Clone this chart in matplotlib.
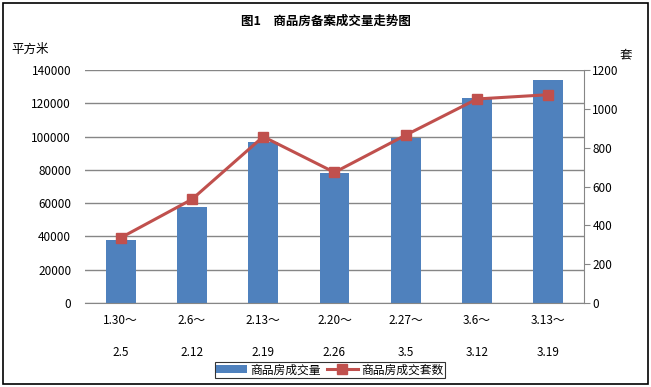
import matplotlib.pyplot as plt
import numpy as np
from matplotlib.patches import Rectangle

plt.rcParams['font.family'] = ['Noto Sans CJK SC', 'DejaVu Sans']

weeks_start = ['1.30～', '2.6～', '2.13～', '2.20～', '2.27～', '3.6～', '3.13～']
weeks_end = ['2.5', '2.12', '2.19', '2.26', '3.5', '3.12', '3.19']
area = [38000, 58000, 97000, 78000, 99000, 123000, 134000]   # 平方米
units = [336, 534, 857, 673, 865, 1051, 1073]                 # 套

bar_color = '#4F81BD'
line_color = '#C0504D'
grid_color = '#868686'

fig = plt.figure(figsize=(6.51, 3.87), dpi=100)
fig.patches.append(Rectangle((0.004, 0.008), 0.991, 0.984, transform=fig.transFigure,
                             fill=False, edgecolor='black', linewidth=1.2))

ax = fig.add_axes([0.1306, 0.217, 0.7664, 0.602])
ax2 = ax.twinx()

x = np.arange(len(area))
b = ax.bar(x, area, width=0.42, color=bar_color, zorder=2, label='商品房成交量')
l, = ax2.plot(x, units, color=line_color, lw=2.2, marker='s', markersize=7,
              label='商品房成交套数', zorder=3)

ax.set_xlim(-0.5, len(area) - 0.5)
ax.set_ylim(0, 140000)
ax.set_yticks(np.arange(0, 140001, 20000))
ax2.set_ylim(0, 1200)
ax2.set_yticks(np.arange(0, 1201, 200))

ax.grid(axis='y', color=grid_color, lw=1, zorder=0)
ax.set_axisbelow(True)
for s in ['top', 'left', 'right']:
    ax.spines[s].set_visible(False)
for s in ['top', 'left']:
    ax2.spines[s].set_visible(False)
ax2.spines['bottom'].set_visible(False)
ax.spines['bottom'].set_color(grid_color)
ax2.spines['right'].set_color(grid_color)

ax.set_xticks(x)
ax.set_xticklabels([f'{a}\n\n{b_}' for a, b_ in zip(weeks_start, weeks_end)],
                   fontsize=8.5, linespacing=1.3)
ax.tick_params(axis='x', length=0, pad=8)
ax.tick_params(axis='y', length=0, labelsize=8.5, pad=10)
ax2.tick_params(axis='y', length=4, color=grid_color, labelsize=8.5, pad=2)

fig.text(0.5, 0.945, '图1　商品房备案成交量走势图', ha='center', va='center',
         fontsize=9, fontweight='bold')
fig.text(0.018, 0.873, '平方米', ha='left', va='center', fontsize=9)
fig.text(0.952, 0.858, '套', ha='left', va='center', fontsize=9)

leg = fig.legend([b, l], ['商品房成交量', '商品房成交套数'], loc='center',
                 bbox_to_anchor=(0.507, 0.044), ncol=2, fontsize=8.5, frameon=True,
                 fancybox=False, edgecolor='black', handlelength=2.6,
                 columnspacing=0.5, handletextpad=0.3, borderpad=0.15)
leg.get_frame().set_linewidth(0.8)

fig.savefig('out.png', dpi=100)
